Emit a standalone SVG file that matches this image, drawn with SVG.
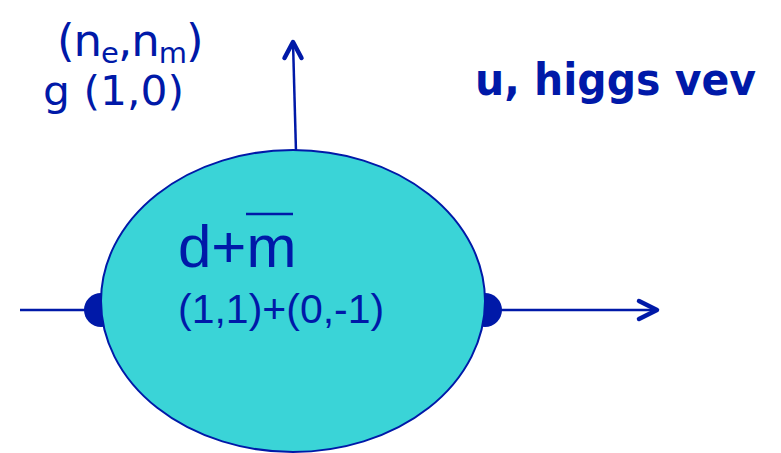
<svg xmlns="http://www.w3.org/2000/svg" width="781" height="453" viewBox="0 0 781 453">
<style>
.ln{stroke:#0019A8;stroke-width:2.5;fill:none}
.ah{stroke:#0019A8;stroke-width:4.5;fill:none;stroke-linecap:round;stroke-linejoin:round}
.dot{fill:#0019A8}
.t{fill:#0019A8;font-family:"DejaVu Sans",Verdana,sans-serif}
.a{fill:#0019A8;font-family:"Liberation Sans",Arial,sans-serif}
</style>
<rect width="781" height="453" fill="#fff"/>
<g id="connectors">
<line class="ln" x1="20" y1="310" x2="101" y2="310"/>
<line class="ln" x1="485" y1="310" x2="657" y2="310"/>
<polyline class="ah" points="639,301 657,310 639,319"/>
<line class="ln" x1="296" y1="152" x2="293" y2="42"/>
<polyline class="ah" points="284.5,58 293,42 301.5,58"/>
<circle class="dot" cx="101" cy="310" r="17"/>
<circle class="dot" cx="485" cy="310" r="17"/>
</g>
<g id="node-dm">
<ellipse cx="293" cy="301" rx="192" ry="151" fill="#3AD4D7" stroke="#0019A8" stroke-width="2"/>
<text class="a" x="178" y="267" font-size="60">d+m</text>
<line x1="246" y1="214" x2="293" y2="214" stroke="#0019A8" stroke-width="2.5"/>
<text class="a" x="178" y="323" font-size="41">(1,1)+(0,-1)</text>
</g>
<g id="label-charges">
<text class="t" x="57" y="56" font-size="45" letter-spacing="-1">(n<tspan font-size="29" dy="7">e</tspan><tspan dy="-7">,n</tspan><tspan font-size="29" dy="7">m</tspan><tspan dy="-7">)</tspan></text>
<text class="t" x="43" y="105" font-size="40" textLength="141" lengthAdjust="spacingAndGlyphs">g (1,0)</text>
</g>
<g id="label-higgs">
<text class="t" x="475" y="95" font-size="44" font-weight="bold" textLength="281" lengthAdjust="spacingAndGlyphs">u, higgs vev</text>
</g>
</svg>
